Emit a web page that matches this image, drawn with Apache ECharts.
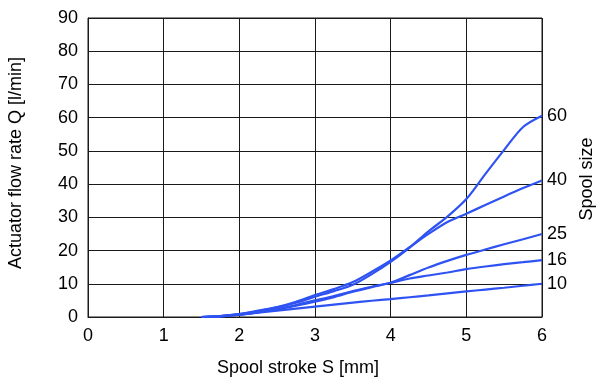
<!DOCTYPE html>
<html>
<head>
<meta charset="utf-8">
<script src="https://cdn.jsdelivr.net/npm/echarts@6/dist/echarts.min.js"></script>
<style>
  html, body { margin: 0; padding: 0; background: #fff; }
  #chart { width: 597px; height: 381px; }
</style>
</head>
<body>
<div id="chart"></div>
<script>
// Spool stroke S [mm] sample positions shared by all curves
const strokes = [1.5, 1.75, 2, 2.25, 2.5, 2.75, 3, 3.25, 3.5, 3.75, 4, 4.25, 4.5, 4.75, 5, 5.25, 5.5, 5.75, 6];

// Actuator flow rate Q [l/min] per spool size
const flow60 = [0, 0.3, 0.9, 1.8, 2.9, 4.3, 6.1, 7.8, 9.7, 12.9, 16.6, 20.9, 25.8, 30.2, 35.5, 43.0, 50.3, 57.2, 60.6];
const flow40 = [0, 0.3, 0.9, 1.9, 3.0, 4.6, 6.6, 8.4, 10.5, 13.6, 17.0, 21.0, 25.0, 28.6, 31.1, 33.7, 36.3, 38.8, 41.1];
const flow25 = [0, 0.2, 0.7, 1.4, 2.3, 3.4, 4.6, 6.0, 7.6, 9.0, 10.3, 12.6, 14.9, 16.9, 18.7, 20.3, 21.9, 23.4, 25.0];
const flow16 = [0, 0.2, 0.7, 1.5, 2.4, 3.6, 5.0, 6.3, 7.8, 9.1, 10.3, 11.6, 12.5, 13.4, 14.4, 15.2, 15.9, 16.5, 17.1];
const flow10 = [0, 0.25, 0.7, 1.3, 1.9, 2.5, 3.1, 3.7, 4.3, 4.9, 5.4, 5.95, 6.5, 7.1, 7.7, 8.25, 8.8, 9.4, 10.0];

const spoolSizes = ['60', '40', '25', '16', '10'];
const flowSets = [flow60, flow40, flow25, flow16, flow10];

// Axis tick values
const xTicks = [0, 1, 2, 3, 4, 5, 6];
const yTicks = [0, 10, 20, 30, 40, 50, 60, 70, 80, 90];

const FONT = 'Liberation Sans, Arial, sans-serif';
const LINE_BLUE = '#2f53f2';
const GRID_COLOR = '#1a1a1a';
const TICK_SIZE = 18;
const TITLE_SIZE = 18;

const chart = echarts.init(document.getElementById('chart'), null, { renderer: 'canvas' });

const series = spoolSizes.map((name, i) => ({
  name: name,
  type: 'line',
  data: strokes.map((s, j) => [s, flowSets[i][j]]),
  smooth: 0.3,
  showSymbol: false,
  lineStyle: { color: LINE_BLUE, width: 2.2 },
  itemStyle: { color: LINE_BLUE },
  z: 5,
  endLabel: {
    show: true,
    formatter: '{a}',
    distance: 5,
    color: '#000',
    fontFamily: FONT,
    fontSize: TICK_SIZE
  },
  emphasis: { disabled: true }
}));

chart.setOption({
  animation: false,
  backgroundColor: '#fff',
  grid: { left: 88, top: 18, right: 55, bottom: 64, containLabel: false },
  xAxis: {
    type: 'value',
    min: xTicks[0],
    max: xTicks[xTicks.length - 1],
    interval: 1,
    axisLine: { show: true, onZero: false, lineStyle: { color: GRID_COLOR, width: 1 } },
    axisTick: { show: false },
    axisLabel: { color: '#000', fontFamily: FONT, fontSize: TICK_SIZE, margin: 10 },
    splitLine: { show: true, lineStyle: { color: GRID_COLOR, width: 1 } }
  },
  yAxis: {
    type: 'value',
    min: yTicks[0],
    max: yTicks[yTicks.length - 1],
    interval: 10,
    axisLine: { show: true, lineStyle: { color: GRID_COLOR, width: 1 } },
    axisTick: { show: false },
    axisLabel: { color: '#000', fontFamily: FONT, fontSize: TICK_SIZE, margin: 10 },
    splitLine: { show: true, lineStyle: { color: GRID_COLOR, width: 1 } }
  },
  graphic: [
    {
      type: 'rect',
      shape: { x: 88, y: 18, width: 454, height: 299 },
      style: { fill: 'none', stroke: GRID_COLOR, lineWidth: 1 },
      silent: true,
      z: 1
    },
    {
      type: 'text',
      x: 298, y: 368,
      style: {
        text: 'Spool stroke S [mm]',
        fill: '#000', font: TITLE_SIZE + 'px ' + FONT,
        align: 'center', verticalAlign: 'middle'
      }
    },
    {
      type: 'text',
      x: 16, y: 163,
      rotation: Math.PI / 2,
      style: {
        text: 'Actuator flow rate Q [l/min]',
        fill: '#000', font: TITLE_SIZE + 'px ' + FONT,
        align: 'center', verticalAlign: 'middle'
      }
    },
    {
      type: 'text',
      x: 587, y: 179,
      rotation: Math.PI / 2,
      style: {
        text: 'Spool size',
        fill: '#000', font: TITLE_SIZE + 'px ' + FONT,
        align: 'center', verticalAlign: 'middle'
      }
    }
  ],
  series: series
});
</script>
</body>
</html>
